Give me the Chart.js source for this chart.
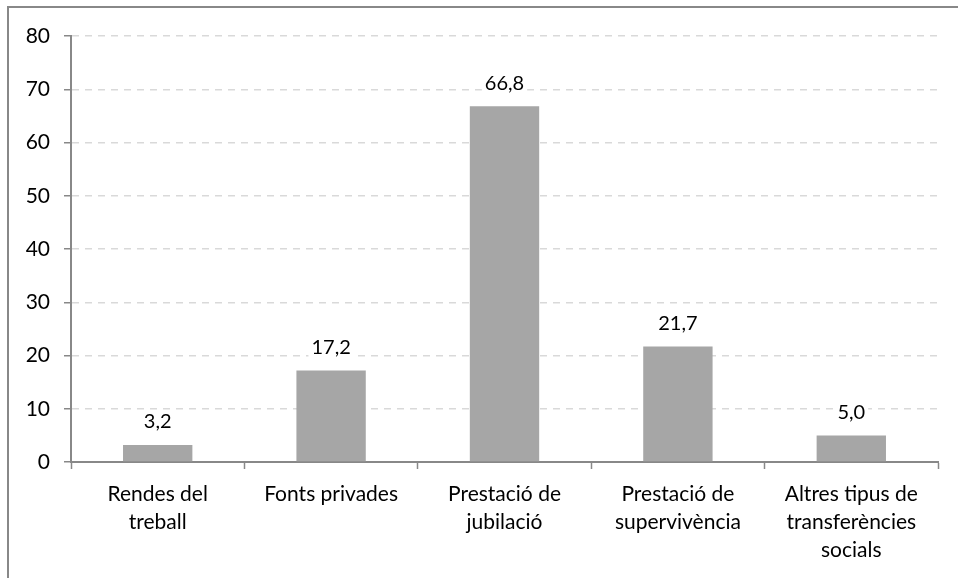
<!DOCTYPE html>
<html>
<head>
<meta charset="utf-8">
<script src="https://cdn.jsdelivr.net/npm/chart.js@4/dist/chart.umd.min.js"></script>
<style>
html,body{margin:0;padding:0;background:#fff;overflow:hidden;}
#wrap{position:relative;width:958px;height:578px;}
#frame{position:absolute;left:7px;top:6px;width:1000px;height:1000px;border-left:2px solid #888;border-top:2px solid #888;box-sizing:border-box;pointer-events:none;}
canvas{position:absolute;left:0;top:0;}
</style>
</head>
<body>
<div id="wrap">
<canvas id="c" width="958" height="578"></canvas>
<div id="frame"></div>
</div>
<script>
const categories = [
  ["Rendes del", "treball"],
  ["Fonts privades"],
  ["Prestació de", "jubilació"],
  ["Prestació de", "supervivència"],
  ["Altres tipus de", "transferències", "socials"]
];
const values = [3.2, 17.2, 66.8, 21.7, 5.0];
const yTicks = [0, 10, 20, 30, 40, 50, 60, 70, 80];

const FONT = "Lato";

const labelPlugin = {
  id: 'valueLabels',
  afterDatasetsDraw(chart) {
    const ctx = chart.ctx;
    const meta = chart.getDatasetMeta(0);
    ctx.save();
    ctx.font = "20px " + FONT;
    ctx.textAlign = 'center';
    ctx.textBaseline = 'middle';
    meta.data.forEach((bar, i) => {
      const txt = values[i].toFixed(1).replace('.', ',');
      const w = ctx.measureText(txt).width;
      const cx = bar.x, cy = bar.y - 23;
      ctx.fillStyle = '#fff';
      ctx.fillRect(cx - w / 2 - 3, cy - 11, w + 6, 22);
      ctx.fillStyle = '#000';
      ctx.fillText(txt, cx, cy);
    });
    ctx.restore();
  }
};

new Chart(document.getElementById('c'), {
  type: 'bar',
  data: {
    labels: categories,
    datasets: [{
      data: values,
      backgroundColor: '#a6a6a6',
      borderWidth: 0,
      barPercentage: 0.4,
      categoryPercentage: 1.0
    }]
  },
  options: {
    responsive: false,
    animation: false,
    events: [],
    layout: { padding: { top: 36, right: 20, left: 0, bottom: 0 } },
    plugins: { legend: { display: false }, tooltip: { enabled: false } },
    scales: {
      x: {
        grid: {
          offset: true,
          drawOnChartArea: false,
          drawTicks: true,
          tickLength: 7,
          tickColor: '#888',
          tickWidth: 1.5
        },
        border: { color: '#888', width: 2 },
        ticks: {
          color: '#000',
          font: { family: FONT, size: 21, lineHeight: 1.33 },
          padding: 11,
          maxRotation: 0,
          autoSkip: false
        },
        afterFit(scale) { scale.height = 116; }
      },
      y: {
        min: 0,
        max: 80,
        afterBuildTicks(scale) { scale.ticks = yTicks.map(v => ({ value: v })); },
        grid: {
          color: '#d9d9d9',
          lineWidth: 1.5,
          tickLength: 7,
          tickColor: '#888',
          tickWidth: 1.5,
          tickBorderDash: []
        },
        border: { color: '#888', width: 2, dash: [7, 6] },
        ticks: {
          color: '#000',
          font: { family: FONT, size: 21 },
          padding: 14
        },
        afterFit(scale) { scale.width = 71; }
      }
    }
  },
  plugins: [labelPlugin]
});
</script>
</body>
</html>
